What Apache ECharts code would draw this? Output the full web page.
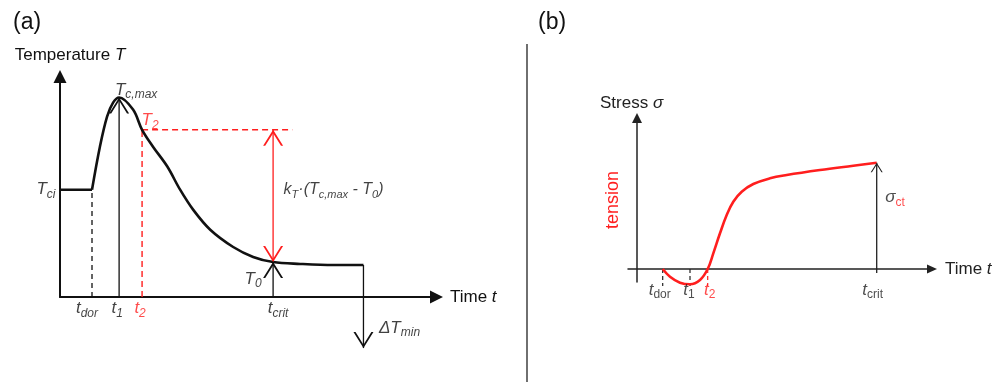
<!DOCTYPE html>
<html><head><meta charset="utf-8">
<script src="https://cdn.jsdelivr.net/npm/echarts@6/dist/echarts.min.js"></script>
<style>html,body{margin:0;padding:0;background:#fff}#c{width:995px;height:382px}</style>
</head><body><div id="c"></div>
<script>
// ---------- Panel (a): temperature history (schematic units) ----------
const tempTime  = [0.85, 1.06, 1.25, 1.41, 1.57, 1.94, 2.18, 2.47, 2.85, 3.19, 3.54, 3.99, 4.60, 5.13, 5.66, 6.38, 7.26, 8.06];
const tempValue = [2.92, 4.09, 4.91, 5.29, 5.43, 5.10, 4.55, 4.09, 3.55, 2.92, 2.37, 1.83, 1.36, 1.09, 0.95, 0.90, 0.87, 0.87];
const aTimes  = [0.85, 1.57, 2.18, 5.66, 8.06];   // t_dor, t1, t2, t_crit, end of curve
const aLevels = [2.92, 5.43, 4.55, 0.95, -1.39]; // T_ci, T_c,max, T2, T0, ΔT_min arrow end
const aT2LineEnd = 6.17;
const aTickLabels = ['{m|t}{s|dor}', '{m|t}{s|1}', '{mr|t}{sr|2}', '{m|t}{s|crit}'];

// ---------- Panel (b): stress history (schematic units) ----------
const stressTime  = [2.57, 3.3, 4.3, 5.3, 6.3, 7.07, 7.63, 8.3, 8.97, 9.63, 10.47, 11.63, 13.3, 14.97, 18.3, 21.63, 23.97];
const stressValue = [0, -0.77, -1.37, -1.53, -1.1, 0, 1.57, 3.57, 5.4, 6.73, 7.73, 8.5, 9.07, 9.4, 9.9, 10.33, 10.63];
const bTimes = [2.57, 5.3, 7.07, 23.97];          // t_dor, t1, t2, t_crit
const bTickLabels = ['{m|t}{s|dor}', '{m|t}{s|1}', '{mr|t}{sr|2}', '{m|t}{s|crit}'];
const bSigmaCt = 10.63;

const F = '"Liberation Sans", Arial, sans-serif';
const RED = '#ff1e1e';
const INK = '#111';
// open "V" arrow head, tip at the centre of its box
const CHEVRON = 'path://M10,0L10,0Z M10,16L0,32L2.1,32L10,19.4L17.9,32L20,32Z';

const [tDor, t1, t2, tCrit, tEnd] = aTimes;
const [Tci, Tmax, T2, T0, dTmin] = aLevels;
const [bDor, b1, b2, bCrit] = bTimes;

const richA = {
  m:  {fontFamily: F, fontStyle: 'italic', fontSize: 17, color: INK, lineHeight: 20},
  s:  {fontFamily: F, fontStyle: 'italic', fontSize: 12, color: INK, lineHeight: 12, padding: [10, 0, 0, 0]},
  mr: {fontFamily: F, fontStyle: 'italic', fontSize: 17, color: RED, lineHeight: 20},
  sr: {fontFamily: F, fontStyle: 'italic', fontSize: 12, color: RED, lineHeight: 12, padding: [10, 0, 0, 0]},
  k:  {fontFamily: F, fontStyle: 'italic', fontSize: 16, color: INK, lineHeight: 20},
  ks: {fontFamily: F, fontStyle: 'italic', fontSize: 11, color: INK, lineHeight: 11, padding: [10, 0, 0, 0]},
  n:  {fontFamily: F, fontSize: 17, color: INK, lineHeight: 20}
};
const richB = {
  m:  {fontFamily: F, fontStyle: 'italic', fontSize: 17, color: '#222', lineHeight: 19},
  s:  {fontFamily: F, fontSize: 12, color: '#222', lineHeight: 12, padding: [9, 0, 0, 0]},
  mr: {fontFamily: F, fontStyle: 'italic', fontSize: 17, color: RED, lineHeight: 19},
  sr: {fontFamily: F, fontSize: 12, color: RED, lineHeight: 12, padding: [9, 0, 0, 0]},
  g:  {fontFamily: F, fontStyle: 'italic', fontWeight: 'normal', fontSize: 17, color: '#222', lineHeight: 19},
  n:  {fontFamily: F, fontWeight: 'normal', fontSize: 17, color: '#222', lineHeight: 20}
};

function seg(pts, color, width, type, gi) {
  return {type: 'line', xAxisIndex: gi, yAxisIndex: gi, data: pts, symbol: 'none', showSymbol: false,
    lineStyle: {color, width, type: type || 'solid'}, clip: false, silent: true, z: 2};
}
function arrows(items, color, size, gi) {
  return {type: 'scatter', xAxisIndex: gi, yAxisIndex: gi, symbol: CHEVRON, symbolSize: size,
    symbolKeepAspect: false, itemStyle: {color, opacity: 1}, clip: false, silent: true, z: 5,
    data: items.map(([x, y, r]) => ({value: [x, y], symbolRotate: r}))};
}
function labels(items, gi, rich) {
  return {type: 'scatter', xAxisIndex: gi, yAxisIndex: gi, symbol: 'circle', symbolSize: 1,
    itemStyle: {color: 'rgba(0,0,0,0)'}, clip: false, silent: true, z: 6,
    data: items.map(it => ({value: it.at,
      label: Object.assign({show: true, formatter: it.text, rich: rich}, it.place)}))};
}

const axisCommon = {axisTick: {show: false}, axisLabel: {show: false}, splitLine: {show: false}};

const option = {
  animation: false,
  backgroundColor: '#fff',
  title: [
    {text: '(a)', left: 8, top: 6, textStyle: {fontFamily: F, fontSize: 23, fontWeight: 'normal', color: INK}},
    {text: '(b)', left: 533, top: 6, textStyle: {fontFamily: F, fontSize: 23, fontWeight: 'normal', color: INK}},
    {text: '{n|Stress }{g|σ}', left: 595, top: 88, textStyle: {fontWeight: 'normal', rich: richB}}
  ],
  graphic: [{type: 'line', shape: {x1: 527, y1: 44, x2: 527, y2: 382}, style: {stroke: '#222', lineWidth: 1.3}}],
  grid: [
    {left: 60, top: 76.5, width: 376.5, height: 220.5},
    {left: 628, top: 118, width: 304, height: 164}
  ],
  xAxis: [
    Object.assign({type: 'value', gridIndex: 0, min: 0, max: 10,
      axisLine: {show: true, symbol: ['none', 'triangle'], symbolSize: [13, 13], lineStyle: {color: INK, width: 2}},
      name: '{n|Time }{m|t}', nameLocation: 'end', nameGap: 13.5, nameTextStyle: {rich: richA}}, axisCommon),
    Object.assign({type: 'value', gridIndex: 1, min: -0.9, max: 29.5,
      axisLine: {show: true, onZero: true, symbol: ['none', 'triangle'], symbolSize: [9, 10], lineStyle: {color: '#222', width: 1.5}},
      name: '{n|Time }{g|t}', nameLocation: 'end', nameGap: 13, nameTextStyle: {rich: richB}}, axisCommon)
  ],
  yAxis: [
    Object.assign({type: 'value', gridIndex: 0, min: 0, max: 6,
      axisLine: {show: true, symbol: ['none', 'triangle'], symbolSize: [13, 13], lineStyle: {color: INK, width: 2}},
      name: '{n|Temperature }{m|T}', nameLocation: 'end', nameGap: 11,
      nameTextStyle: {rich: richA, padding: [0, 0, 0, 20]}}, axisCommon),
    Object.assign({type: 'value', gridIndex: 1, min: -1.3, max: 15.1,
      axisLine: {show: true, onZero: true, symbol: ['none', 'triangle'], symbolSize: [10, 10], lineStyle: {color: '#222', width: 1.5}},
      name: 'tension', nameLocation: 'middle', nameRotate: 90, nameGap: 6,
      nameTextStyle: {color: RED, fontSize: 18, fontFamily: F}}, axisCommon)
  ],
  series: [
    // ----- (a) -----
    seg([[tDor, 0], [tDor, Tci]], INK, 1.3, [5, 4], 0),
    seg([[t1, 0], [t1, Tmax]], INK, 1.3, 'solid', 0),
    seg([[t2, 0], [t2, T2]], RED, 1.4, [6, 4], 0),
    seg([[t2, T2], [aT2LineEnd, T2]], RED, 1.4, [6, 4], 0),
    seg([[tCrit, T0], [tCrit, T2]], RED, 1.3, 'solid', 0),
    seg([[tCrit, 0], [tCrit, T0]], INK, 1.3, 'solid', 0),
    seg([[0, Tci], [tDor, Tci]], INK, 2.6, 'solid', 0),
    Object.assign(seg(tempTime.map((t, i) => [t, tempValue[i]]), INK, 2.6, 'solid', 0), {smooth: 0.35, z: 3}),
    seg([[tEnd, tempValue[tempValue.length - 1]], [tEnd, dTmin]], INK, 1.3, 'solid', 0),
    arrows([[t1, Tmax, 0], [tCrit, T0, 0], [tEnd, dTmin, 180]], INK, [20, 32], 0),
    arrows([[tCrit, T2, 0], [tCrit, T0, 180]], RED, [20, 32], 0),
    labels([
      {at: [0, Tci], text: '{m|T}{s|ci}', place: {position: 'left', distance: 4}},
      {at: [t1, Tmax], text: '{m|T}{s|c,max}', place: {position: 'top', distance: -3, offset: [17, 0]}},
      {at: [t2, T2], text: '{mr|T}{sr|2}', place: {position: 'top', distance: -1, offset: [8, 0]}},
      {at: [tCrit, (T0 + T2) / 2], text: '{k|k}{ks|T}{k|·(T}{ks|c,max}{k| - T}{ks|0}{k|)}', place: {position: 'right', distance: 10, offset: [0, -6]}},
      {at: [tCrit, T0], text: '{m|T}{s|0}', place: {position: 'left', distance: 11, offset: [0, 17]}},
      {at: [tDor, 0], text: aTickLabels[0], place: {position: 'bottom', distance: 1, offset: [-5, 0]}},
      {at: [t1, 0], text: aTickLabels[1], place: {position: 'bottom', distance: 1, offset: [-2, 0]}},
      {at: [t2, 0], text: aTickLabels[2], place: {position: 'bottom', distance: 1, offset: [-2, 0]}},
      {at: [tCrit, 0], text: aTickLabels[3], place: {position: 'bottom', distance: 1, offset: [5, 0]}},
      {at: [tEnd, dTmin], text: '{m|ΔT}{s|min}', place: {position: 'right', distance: 15, offset: [0, -20]}}
    ], 0, richA),
    // ----- (b) -----
    seg([[bDor, 0], [bDor, -1.7]], '#222', 1.2, [4, 3], 1),
    seg([[b1, 0], [b1, -1.7]], '#222', 1.2, [4, 3], 1),
    seg([[b2, 0], [b2, -1.7]], RED, 1.2, [4, 3], 1),
    seg([[bCrit, -0.4], [bCrit, bSigmaCt]], '#222', 1.3, 'solid', 1),
    Object.assign(seg(stressTime.map((t, i) => [t, stressValue[i]]), RED, 2.6, 'solid', 1), {smooth: 0.4, z: 3}),
    arrows([[bCrit, bSigmaCt, 0]], '#222', [12, 19.2], 1),
    labels([
      {at: [bDor, 0], text: bTickLabels[0], place: {position: 'bottom', distance: 11, offset: [-3, 0]}},
      {at: [b1, 0], text: bTickLabels[1], place: {position: 'bottom', distance: 11, offset: [-1, 0]}},
      {at: [b2, 0], text: bTickLabels[2], place: {position: 'bottom', distance: 11, offset: [2, 0]}},
      {at: [bCrit, 0], text: bTickLabels[3], place: {position: 'bottom', distance: 11, offset: [-4, 0]}},
      {at: [bCrit, bSigmaCt], text: '{g|σ}{sr|ct}', place: {position: 'right', distance: 8, offset: [0, 35]}}
    ], 1, richB)
  ]
};
echarts.init(document.getElementById('c'), null, {renderer: 'canvas'}).setOption(option);
</script></body></html>
